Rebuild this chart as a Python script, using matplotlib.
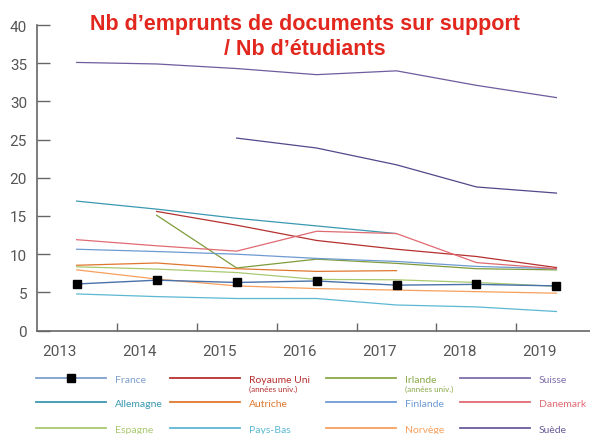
import numpy as np
import matplotlib

matplotlib.use('Agg')
import matplotlib.pyplot as plt

nan = np.nan

years = ['2013', '2014', '2015', '2016', '2017', '2018', '2019']

# valeurs (nan = pas de donnée)
france = [6.1, 6.6, 6.3, 6.5, 5.95, 6.05, 5.85]
royaume_uni = [nan, 15.6, 13.8, 11.8, 10.65, 9.7, 8.25]
irlande = [nan, 15.1, 8.2, 9.35, 8.8, 8.1, 7.95]
suisse = [35.1, 34.9, 34.3, 33.5, 34.0, 32.1, 30.5]
allemagne = [16.95, 15.9, 14.7, 13.7, 12.7, nan, nan]
autriche = [8.55, 8.85, 8.1, 7.75, 7.85, nan, nan]
finlande = [10.65, 10.35, 10.0, 9.45, 9.05, 8.4, 8.1]
danemark = [11.9, 11.1, 10.4, 13.0, 12.7, 8.9, 8.1]
espagne = [8.35, 8.05, 7.6, 6.7, 6.65, 6.3, 5.8]
pays_bas = [4.8, 4.45, 4.2, 4.2, 3.35, 3.1, 2.5]
norvege = [7.95, 6.75, 5.85, 5.5, 5.3, 5.1, 4.9]
suede = [nan, nan, 25.2, 23.9, 21.7, 18.8, 18.0]

# ordre de la légende (ligne par ligne)
series = [
    ('France', france, '#4a72aa', '#7f9fcc', None),
    ('Royaume Uni', royaume_uni, '#b5302f', '#b5302f', '(années univ.)'),
    ('Irlande', irlande, '#7f9c3c', '#8aa84a', '(années univ.)'),
    ('Suisse', suisse, '#6e5c9e', '#7e6eaa', None),
    ('Allemagne', allemagne, '#3a98b0', '#3a98b0', None),
    ('Autriche', autriche, '#e0772e', '#e0772e', None),
    ('Finlande', finlande, '#6e9ad2', '#6e9ad2', None),
    ('Danemark', danemark, '#e06a72', '#e06a72', None),
    ('Espagne', espagne, '#a9c96e', '#a9c96e', None),
    ('Pays-Bas', pays_bas, '#5cb8d2', '#5cb8d2', None),
    ('Norvège', norvege, '#f7a05e', '#f7a05e', None),
    ('Suède', suede, '#54478a', '#6a5c9a', None),
]

fig = plt.figure(figsize=(5.9, 4.35), dpi=100)
ax = fig.add_axes([36.7 / 590, 1 - 331.6 / 435, 1 - 36.7 / 590, (331.6 - 26) / 435])

x = np.arange(len(years))
for name, vals, col, lcol, sub in series:
    if name == 'France':
        ax.plot(x, vals, color=col, lw=1.0, marker='s', ms=5.5,
                mfc='black', mec='black', zorder=5)
    else:
        ax.plot(x, vals, color=col, lw=0.9)

ax.set_xlim(-0.5, 6.42)
ax.set_ylim(0, 40)

gray = '#666666'
for s in ['top', 'right']:
    ax.spines[s].set_visible(False)
for s in ['left', 'bottom']:
    ax.spines[s].set_color(gray)
    ax.spines[s].set_linewidth(1.2)

ax.set_yticks(np.arange(0, 41, 5))
ax.tick_params(axis='y', direction='in', length=9.5, width=1.0, color=gray,
               labelsize=11, labelcolor='#555555', pad=7)
ax.set_xticks(np.arange(0.5, 6, 1))
ax.set_xticks(x - 0.21, years, minor=True)
ax.tick_params(axis='x', which='major', direction='in', length=6, width=1.0,
               color=gray, labelbottom=False)
ax.tick_params(axis='x', which='minor', length=0, labelsize=11,
               labelcolor='#555555', pad=10)
for lab in ax.get_yticklabels() + ax.get_xticklabels(minor=True):
    lab.set_family('Roboto')

fig.text(305 / 590, 1 - 37 / 435,
         'Nb d’emprunts de documents sur support\n/ Nb d’étudiants',
         ha='center', va='center', color='#e2281e', fontsize=15.5,
         fontweight='bold', family='Liberation Sans', linespacing=1.2)

# légende en grille 4 x 3
col_x = [36, 170, 326, 460]
row_y = [380, 404, 430]
fs = 7.5
fs_px = fs * 100 / 72
for i, (name, vals, col, lcol, sub) in enumerate(series):
    r, c = divmod(i, 4)
    if name == 'France':
        h = matplotlib.lines.Line2D([], [], color=lcol, lw=1.3, marker='s',
                                    ms=5.5, mfc='black', mec='black')
    else:
        h = matplotlib.lines.Line2D([], [], color=lcol, lw=1.3)
    leg = fig.legend(handles=[h], labels=[name], loc='center left',
                     bbox_to_anchor=(col_x[c] / 590, 1 - row_y[r] / 435),
                     frameon=False, borderpad=0, borderaxespad=0,
                     handlelength=70 / fs_px, handletextpad=9 / fs_px,
                     prop={'family': 'Lato', 'size': fs})
    for t in leg.get_texts():
        t.set_color(lcol)
    if sub:
        fig.text((col_x[c] + 79) / 590, 1 - (row_y[r] + 9) / 435, sub,
                 ha='left', va='center', color=lcol, fontsize=5.8, family='Lato')

fig.savefig('out.png', dpi=100)
